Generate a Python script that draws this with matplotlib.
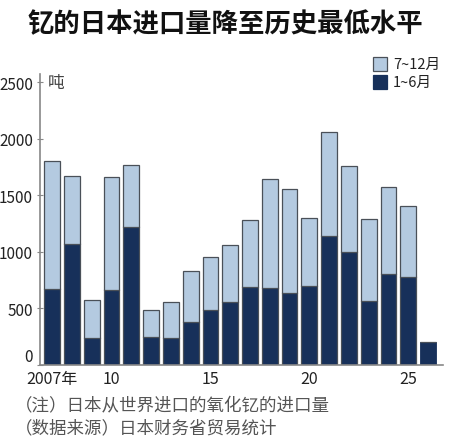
import numpy as np
import matplotlib
matplotlib.use('Agg')
from matplotlib import pyplot as plt
from matplotlib.patches import Rectangle

plt.rcParams['font.family'] = ['Noto Sans CJK SC', 'DejaVu Sans']

# data (tonnes)
years = list(range(2007, 2027))
first_half = [673, 1065, 233, 661, 1216, 242, 233, 375, 484, 552,
              688, 682, 637, 699, 1136, 1000, 560, 800, 779, 204]
totals = [1803, 1673, 575, 1664, 1768, 481, 555, 829, 950, 1056,
          1281, 1641, 1552, 1295, 2057, 1756, 1287, 1570, 1408, None]
second_half = [(t - f) if t is not None else 0 for t, f in zip(totals, first_half)]

xtick_years = [2007, 2010, 2015, 2020, 2025]
xtick_labels = ['2007年', '10', '15', '20', '25']
yticks = [0, 500, 1000, 1500, 2000, 2500]

light = '#b4cae0'
dark = '#17305a'
edge = '#4a5058'
num_font = ['Liberation Sans Narrow', 'Noto Sans CJK SC']

fig = plt.figure(figsize=(4.5, 4.39), dpi=100)
ax = fig.add_axes([0.0889, 0.167, 0.896, 0.662])

ax.bar(years, first_half, width=0.8, color=dark, edgecolor=dark, linewidth=0.6)
ax.bar(years, second_half, bottom=first_half, width=0.8, color=light,
       edgecolor=edge, linewidth=0.9)
# outline of the dark part where light part sits above
for x, f, s in zip(years, first_half, second_half):
    if s > 0:
        ax.plot([x - 0.4, x - 0.4], [0, f], color=edge, lw=0.9)
        ax.plot([x + 0.4, x + 0.4], [0, f], color=edge, lw=0.9)

ax.set_xlim(2006.38, 2026.77)
ax.set_ylim(0, 2573)
ax.set_yticks(yticks)
ax.set_yticklabels([str(v) for v in yticks], family=num_font, fontsize=11,
                   color='#222222')
ax.set_xticks(xtick_years)
ax.set_xticklabels(xtick_labels, family=num_font, fontsize=11.5, color='#222222')
ax.tick_params(axis='x', length=0, pad=4)
ax.tick_params(axis='y', length=4, width=0.8, color='#888888', direction='inout', pad=3)
ax.get_yticklabels()[0].set_y(0)
ax.get_yticklabels()[0].set_verticalalignment('bottom')

for side in ['top', 'right']:
    ax.spines[side].set_visible(False)
for side in ['left', 'bottom']:
    ax.spines[side].set_color('#888888')
    ax.spines[side].set_linewidth(1.2)

ax.text(2006.75, 2500, '吨', fontsize=12, color='#444444', va='center', ha='left')

# legend
fig.patches.append(Rectangle((373 / 450, 1 - 72 / 439), 14 / 450, 14 / 439,
                             transform=fig.transFigure, facecolor=light,
                             edgecolor=edge, lw=0.9))
fig.patches.append(Rectangle((373 / 450, 1 - 90 / 439), 14 / 450, 14 / 439,
                             transform=fig.transFigure, facecolor=dark,
                             edgecolor=dark, lw=0.9))
fig.text(393 / 450, 1 - 65 / 439, '7~12月', fontsize=10.5, color='#222222', va='center')
fig.text(393 / 450, 1 - 83 / 439, '1~6月', fontsize=10.5, color='#222222', va='center')

fig.text(0.5, 1 - 25 / 439, '钇的日本进口量降至历史最低水平', fontsize=19,
         fontweight='bold', ha='center', va='center', color='#111111')

fig.text(15 / 450, 1 - 405 / 439, '（注）日本从世界进口的氧化钇的进口量', fontsize=12.6,
         color='#555555', va='center')
fig.text(15 / 450, 1 - 428 / 439, '（数据来源）日本财务省贸易统计', fontsize=12.6,
         color='#555555', va='center')

fig.savefig('out.png', dpi=100, facecolor='white')
